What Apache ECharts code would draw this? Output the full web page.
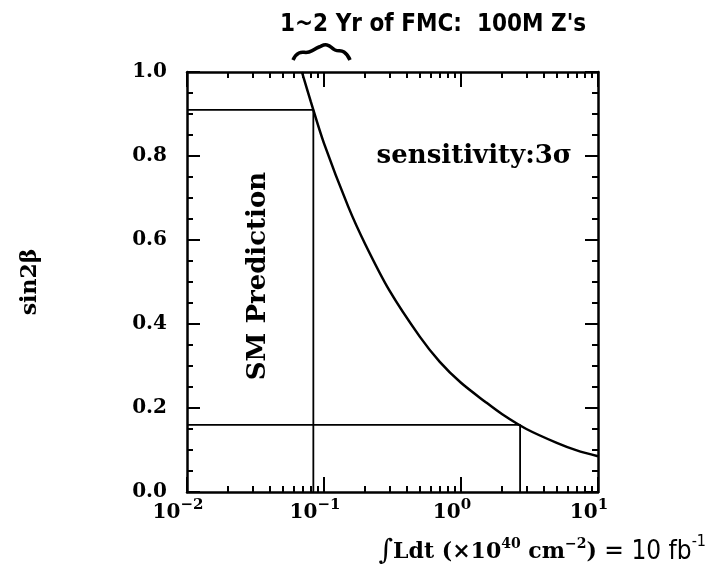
<!DOCTYPE html>
<html>
<head>
<meta charset="utf-8">
<script src="https://cdn.jsdelivr.net/npm/echarts@6/dist/echarts.min.js"></script>
<style>
  html, body { margin: 0; padding: 0; background: #fff; }
  #chart { width: 715px; height: 577px; }
</style>
</head>
<body>
<div id="chart"></div>
<script>
var chart = echarts.init(document.getElementById("chart"), null, { renderer: "canvas" });

// sensitivity curve
const lumi = [0.069, 0.08, 0.1, 0.15, 0.2, 0.3, 0.5, 0.7, 1, 1.5, 2, 3, 5, 7, 10];
const sin2b = [1.0, 0.93, 0.83, 0.68, 0.59, 0.48, 0.37, 0.31, 0.26, 0.215, 0.185, 0.15, 0.117, 0.099, 0.085];

// SM prediction box and the 3 sigma point at the lower value
const smLine = [[0.01, 0.91], [0.0836, 0.91], [0.0836, 0]];
const lowLine = [[0.01, 0.16], [2.7, 0.16], [2.7, 0]];

const majorTicks = [0.01, 0.1, 1, 10];
const minorTicks = [];
[0.01, 0.1, 1].forEach(function (d) {
  for (let k = 2; k <= 9; k++) minorTicks.push(+(d * k).toPrecision(3));
});
const expLabels = { "0.01": "−2", "0.1": "−1", "1": "0", "10": "1" };

const serif = "DejaVu Serif";
const hand = "DejaVu Sans Condensed";

function xAxisCfg(pos, ticks, len, labels, line) {
  return {
    type: "log",
    logBase: 10,
    min: 0.01,
    max: 10,
    position: pos,
    axisLine: { show: line, lineStyle: { color: "#000", width: 2.5 } },
    axisTick: { show: true, inside: true, length: len, customValues: ticks, lineStyle: { color: "#000", width: 2 } },
    minorTick: { show: false },
    splitLine: { show: false },
    axisLabel: labels
      ? {
          show: true,
          customValues: majorTicks,
          margin: 6,
          padding: [0, 18, 0, 0],
          formatter: function (v) {
            return "{b|10}{s|" + expLabels[String(v)] + "}";
          },
          rich: {
            b: { fontFamily: serif, fontWeight: "bold", fontSize: 20, color: "#000" },
            s: { fontFamily: serif, fontWeight: "bold", fontSize: 15, color: "#000", padding: [0, 0, 15, 0] },
          },
        }
      : { show: false },
  };
}

function yAxisCfg(pos, labels) {
  return {
    type: "value",
    min: 0,
    max: 1,
    interval: 0.2,
    position: pos,
    axisLine: { show: true, lineStyle: { color: "#000", width: 2.5 } },
    axisTick: { show: true, inside: true, length: 13, lineStyle: { color: "#000", width: 2 } },
    minorTick: { show: true, splitNumber: 4, length: 6, lineStyle: { color: "#000", width: 2 } },
    splitLine: { show: false },
    axisLabel: {
      show: labels,
      margin: 20,
      fontFamily: serif,
      fontWeight: "bold",
      fontSize: 20,
      color: "#000",
      formatter: function (v) {
        return v.toFixed(1);
      },
    },
    name: labels ? "sin2β" : "",
    nameLocation: "middle",
    nameRotate: 90,
    nameGap: 146,
    nameTextStyle: { fontFamily: serif, fontWeight: "bold", fontSize: 22, color: "#000" },
  };
}

var option = {
  animation: false,
  backgroundColor: "#fff",
  grid: { left: 187, right: 117, top: 72, bottom: 85 },
  xAxis: [
    xAxisCfg("bottom", majorTicks, 15, true, true),
    xAxisCfg("bottom", minorTicks, 6, false, false),
    xAxisCfg("top", majorTicks, 15, false, true),
    xAxisCfg("top", minorTicks, 6, false, false),
  ],
  yAxis: [yAxisCfg("left", true), yAxisCfg("right", false)],
  series: [
    {
      name: "sensitivity",
      type: "line",
      data: lumi.map(function (x, i) { return [x, sin2b[i]]; }),
      smooth: 0.3,
      showSymbol: false,
      clip: true,
      lineStyle: { color: "#000", width: 2.5 },
    },
    {
      name: "SM",
      type: "line",
      data: smLine,
      showSymbol: false,
      lineStyle: { color: "#000", width: 1.8 },
    },
    {
      name: "low",
      type: "line",
      data: lowLine,
      showSymbol: false,
      lineStyle: { color: "#000", width: 1.8 },
    },
  ],
  graphic: [
    {
      type: "text",
      left: 280,
      top: 13,
      style: { text: "1~2 Yr of FMC:  100M Z's", font: "bold 24px " + hand, fill: "#000" },
    },
    {
      type: "polyline",
      shape: {
        points: [[293, 60], [299, 53], [309, 52], [319, 47], [327, 45], [335, 50], [344, 52], [350, 60]],
        smooth: 0.5,
      },
      style: { stroke: "#000", lineWidth: 3.5, fill: null },
    },
    {
      type: "text",
      x: 258,
      y: 276,
      rotation: Math.PI / 2,
      style: {
        text: "SM Prediction",
        font: "bold 26px " + serif,
        fill: "#000",
        align: "center",
        verticalAlign: "middle",
      },
    },
    {
      type: "text",
      x: 572,
      y: 156,
      style: {
        text: "sensitivity:3σ",
        font: "bold 26px " + serif,
        fill: "#000",
        align: "right",
        verticalAlign: "middle",
      },
    },
    {
      type: "text",
      x: 706,
      y: 552,
      style: {
        text: "{i|∫}{b|Ldt (×10}{s|40}{b| cm}{s|−2}{b|)}{h| = 10 fb}{hs|-1}",
        align: "right",
        verticalAlign: "middle",
        rich: {
          i: { fontFamily: serif, fontSize: 28, fill: "#000" },
          b: { fontFamily: serif, fontWeight: "bold", fontSize: 22, fill: "#000" },
          s: { fontFamily: serif, fontWeight: "bold", fontSize: 14, fill: "#000", padding: [0, 0, 15, 0] },
          h: { fontFamily: hand, fontSize: 26, fill: "#000" },
          hs: { fontFamily: hand, fontSize: 16, fill: "#000", padding: [0, 0, 20, 0] },
        },
      },
    },
  ],
};

chart.setOption(option);

window.addEventListener("resize", function () {
  chart.resize();
});
</script>
</body>
</html>
